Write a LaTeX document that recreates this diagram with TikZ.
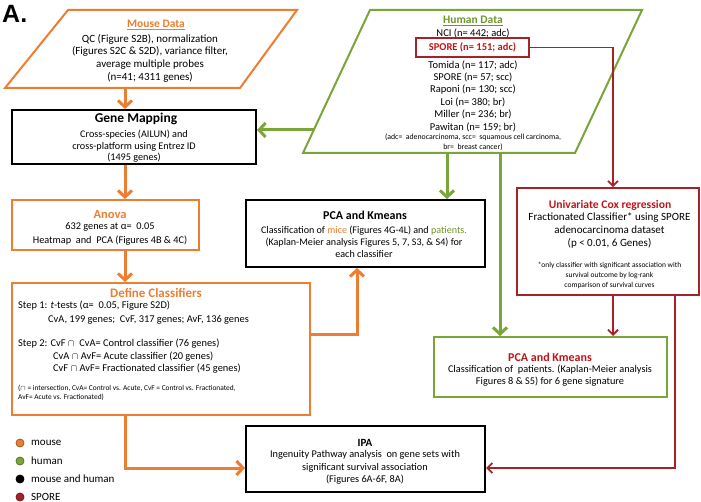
\documentclass[tikz,border=0pt]{standalone}
\usepackage{fontspec}
\setmainfont{Carlito}
\newfontfamily\labfont{Liberation Sans}
\usetikzlibrary{arrows.meta}
\definecolor{mor}{RGB}{237,125,49}
\definecolor{hgr}{RGB}{122,165,55}
\definecolor{htx}{RGB}{112,150,42}
\definecolor{spd}{RGB}{165,35,40}
\definecolor{spt}{RGB}{190,20,25}
\begin{document}
\begin{tikzpicture}[x=1pt,y=-1pt,
  bt/.style={font=\fontsize{10}{12.4}\selectfont, align=center, inner sep=0pt},
  lt/.style={font=\fontsize{10.4}{12.4}\selectfont, anchor=west, inner sep=0pt},
  ttl/.style={font=\fontsize{11.5}{13}\selectfont\bfseries, inner sep=0pt},
  sm/.style={font=\fontsize{7}{10}\selectfont, align=center, inner sep=0pt},
  kbox/.style={draw=black, line width=2pt, inner sep=0pt},
  obox/.style={draw=mor, line width=2pt, inner sep=0pt},
  gbox/.style={draw=hgr, line width=2pt, inner sep=0pt},
  rbox/.style={draw=spd, line width=1.6pt, inner sep=0pt},
  oarr/.style={draw=mor, line width=3pt, -{Straight Barb[length=6.5pt,width=14pt]}},
  garr/.style={draw=hgr, line width=3pt, -{Straight Barb[length=6.5pt,width=14pt]}},
  rarr/.style={draw=spd, line width=1.8pt, -{Straight Barb[length=5pt,width=10pt]}},
  dot/.style={circle, minimum size=8pt, inner sep=0pt, line width=0.8pt},
  legt/.style={font=\fontsize{11}{12}\selectfont, anchor=west, inner sep=0pt}
]
\useasboundingbox (0,0) rectangle (701,502);

% label
\node[font=\labfont\fontsize{25}{25}\selectfont\bfseries, anchor=base west, inner sep=0pt] (lab) at (2,23) {A.};

% Mouse data parallelogram
\draw[draw=mor, line width=2pt, line join=miter] (68,10) coordinate (m1) -- (297,10) coordinate (m2) -- (240,88) coordinate (m3) -- (5,88) coordinate (m4) -- cycle;
\node[ttl, text=mor] (mtitle) at (156,25) {\underline{Mouse Data}};
\node[bt, font=\fontsize{11}{12.7}\selectfont] (mbody) at (150,58) {QC (Figure S2B), normalization\\(Figures S2C \& S2D), variance filter,\\average multiple probes\\(n=41; 4311 genes)};

% Human data parallelogram
\draw[draw=hgr, line width=2pt, line join=miter] (370,10) coordinate (h1c) -- (642,10) coordinate (h2c) -- (575,153) coordinate (h3c) -- (303,153) coordinate (h4c) -- cycle;
\node[ttl, text=htx] (htitle) at (473,21) {\underline{Human Data}};
\node[bt, font=\fontsize{10.5}{12.4}\selectfont] (hnci) at (473,33) {NCI (n= 442; adc)};
\node[rbox, minimum width=113pt, minimum height=19pt, text=spt, font=\fontsize{10.5}{12}\selectfont\bfseries] (spore) at (472.5,47.5) {SPORE (n= 151; adc)};
\node[bt, font=\fontsize{10.5}{12.4}\selectfont] (hlist) at (473,96) {Tomida (n= 117; adc)\\SPORE (n= 57; scc)\\Raponi (n= 130; scc)\\Loi (n= 380; br)\\Miller (n= 236; br)\\Pawitan (n= 159; br)};
\node[sm, font=\fontsize{7.8}{10}\selectfont] (hfoot) at (473,142) {(adc=\ \ adenocarcinoma, scc=\ \ squamous cell carcinoma,\\br=\ \ breast cancer)};

% Gene mapping
\node[kbox, minimum width=244pt, minimum height=54pt] (gene) at (134,137) {};
\node[ttl, font=\fontsize{13.5}{14}\selectfont\bfseries] (genet) at (136,119) {Gene Mapping};
\node[bt, font=\fontsize{10.2}{11.5}\selectfont] (geneb) at (134,146.5) {Cross-species (AILUN) and\\cross-platform using Entrez ID\\(1495 genes)};

% Anova
\node[obox, minimum width=187pt, minimum height=50pt] (anova) at (105.5,225) {};
\node[ttl, font=\fontsize{12.5}{13}\selectfont\bfseries, text=mor] (anovat) at (110,214) {Anova};
\node[bt, font=\fontsize{10.3}{14}\selectfont] (anovab) at (110,233.5) {632 genes at α=\ \ 0.05\\Heatmap\ \ and\ \ PCA (Figures 4B \& 4C)};

% Define classifiers
\node[obox, minimum width=298pt, minimum height=132pt] (def) at (161,349) {};
\node[ttl, font=\fontsize{13}{14}\selectfont\bfseries, text=mor] (deft) at (156,293) {Define Classifiers};
\node[lt] (d1) at (18,306) {Step 1: \textit{t}-tests (α=\ \ 0.05, Figure S2D)};
\node[lt] (d2) at (48,320) {CvA, 199 genes;\ \ CvF, 317 genes; AvF, 136 genes};
\node[lt] (d3) at (18,344) {Step 2: CvF $\cap$\ \ CvA= Control classifier (76 genes)};
\node[lt] (d4) at (53,357) {CvA $\cap$ AvF= Acute classifier (20 genes)};
\node[lt] (d5) at (53,369) {CvF $\cap$ AvF= Fractionated classifier (45 genes)};
\node[lt, font=\fontsize{7.4}{9}\selectfont] (d6) at (18,388) {($\cap$ = intersection, CvA= Control vs. Acute, CvF = Control vs. Fractionated,};
\node[lt, font=\fontsize{7.4}{9}\selectfont] (d7) at (18,397) {AvF= Acute vs. Fractionated)};

% PCA and Kmeans (middle)
\node[kbox, minimum width=239pt, minimum height=67pt] (pcam) at (365.5,233.5) {};
\node[ttl, font=\fontsize{12}{13}\selectfont\bfseries] (pcamt) at (365,215) {PCA and Kmeans};
\node[bt, font=\fontsize{10.1}{12}\selectfont] (pcamb) at (364,242) {Classification of \textcolor{mor}{mice} (Figures 4G-4L) and \textcolor{htx}{patients.}\\(Kaplan-Meier analysis Figures 5, 7, S3, \& S4) for\\each classifier};

% Univariate Cox
\node[rbox, minimum width=182pt, minimum height=107pt] (univ) at (608,241.5) {};
\node[ttl, font=\fontsize{11.6}{13}\selectfont\bfseries, text=spt] (univt) at (610,205) {Univariate Cox regression};
\node[bt, font=\fontsize{11}{13}\selectfont] (univb) at (609.5,230) {Fractionated Classifier* using SPORE\\adenocarcinoma dataset\\(p < 0.01, 6 Genes)};
\node[sm, font=\fontsize{7.5}{10}\selectfont] (univs) at (609.5,275) {*only classifier with significant association with\\survival outcome by log-rank\\comparison of survival curves};

% PCA and Kmeans (patients)
\node[gbox, minimum width=233pt, minimum height=60pt] (pca2) at (550.5,367) {};
\node[ttl, font=\fontsize{12}{13}\selectfont\bfseries, text=spt] (pca2t) at (550,357) {PCA and Kmeans};
\node[bt, font=\fontsize{10.3}{12}\selectfont] (pca2b) at (550,376) {Classification of\ \ patients. (Kaplan-Meier analysis\\Figures 8 \& S5) for 6 gene signature};

% IPA
\node[kbox, minimum width=239pt, minimum height=66pt] (ipa) at (365.5,459) {};
\node[ttl, font=\fontsize{11}{13}\selectfont\bfseries] (ipat) at (365,443) {IPA};
\node[bt, font=\fontsize{10.3}{12.5}\selectfont] (ipab) at (365,467.5) {Ingenuity Pathway analysis\ \ on gene sets with\\significant survival association\\(Figures 6A-6F, 8A)};

% orange connectors
\coordinate (mb) at (125,88);
\draw[oarr] (mb) -- (gene.north -| mb);
\draw[oarr] (gene.south -| mb) -- (anova.north -| mb);
\draw[oarr] (anova.south -| mb) -- (def.north -| mb);
\coordinate (dr) at (310,335);
\coordinate (pk) at (357,335);
\draw[oarr] (def.east |- dr) -- (pk) -- (pcam.south -| pk);
\coordinate (dl) at (125,468);
\draw[oarr] (def.south -| dl) -- (dl) -- (ipa.west |- dl);

% green connectors
\coordinate (hl) at (314,130);
\draw[garr] (hl) -- (gene.east |- hl);
\coordinate (hg1) at (447,153);
\draw[garr] (hg1) -- (pcam.north -| hg1);
\coordinate (hg2) at (500,153);
\draw[garr] (hg2) -- (pca2.north -| hg2);

% red connectors
\coordinate (sr) at (613,47.5);
\draw[rarr] (spore.east) -- (sr) -- (univ.north -| sr);
\draw[rarr] (univ.south -| sr) -- (pca2.north -| sr);
\coordinate (ur) at (675,468);
\draw[rarr] (univ.south -| ur) -- (ur) -- (ipa.east |- ur);

% legend
\node[dot, fill=mor, draw=mor!70!black] (l1) at (20,443) {};
\node[legt] (l1t) at (31,443) {mouse};
\node[dot, fill=hgr, draw=hgr!70!black] (l2) at (20,461) {};
\node[legt] (l2t) at (31,461) {human};
\node[dot, fill=black, draw=black] (l3) at (20,479) {};
\node[legt] (l3t) at (31,479) {mouse and human};
\node[dot, fill=spd, draw=spd!70!black] (l4) at (20,497) {};
\node[legt] (l4t) at (31,497) {SPORE};
\end{tikzpicture}
\end{document}
